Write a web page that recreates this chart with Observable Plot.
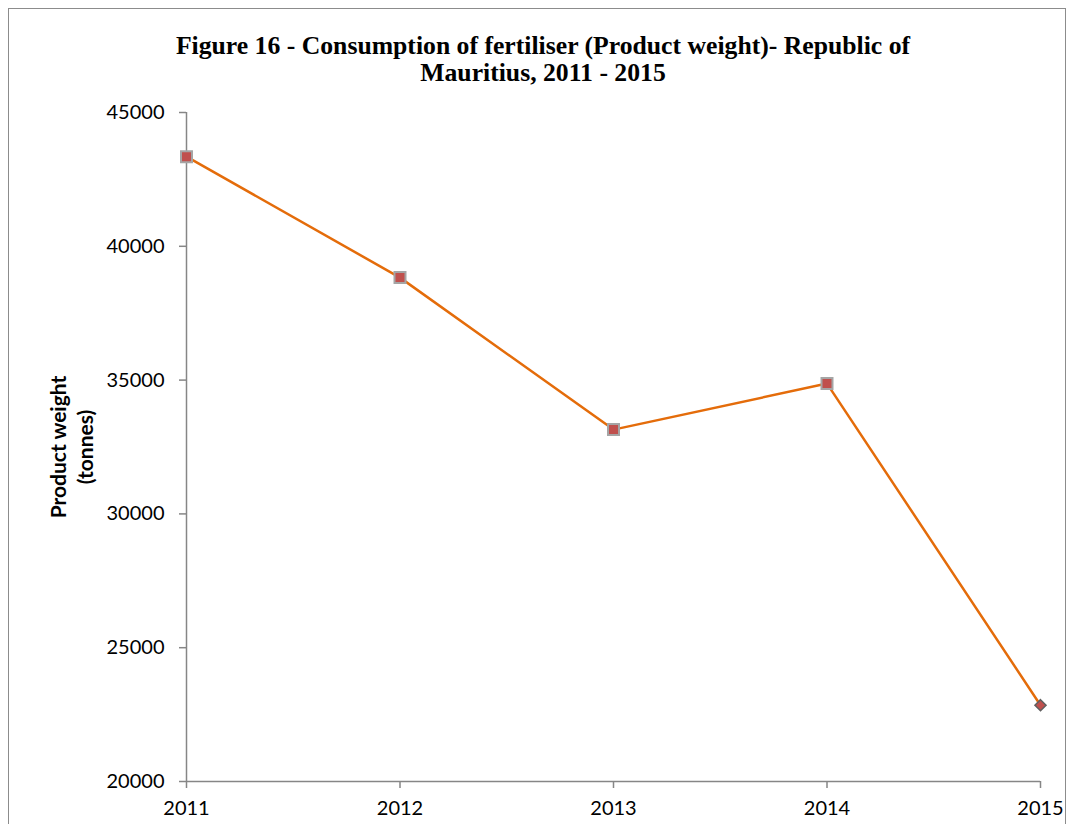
<!DOCTYPE html>
<html><head><meta charset="utf-8">
<script src="https://cdn.jsdelivr.net/npm/d3@7"></script>
<script src="https://cdn.jsdelivr.net/npm/@observablehq/plot@0.6"></script>
<style>
body{margin:0;background:#fff;}
#wrap{position:relative;width:1068px;height:824px;overflow:hidden;}
#border{position:absolute;left:8px;top:8px;width:1058px;height:900px;border:1px solid #8c8c8c;box-sizing:border-box;}
#title{position:absolute;left:0;top:32px;width:1086px;text-align:center;font-family:"Liberation Serif","Times New Roman",serif;font-weight:bold;font-size:25.7px;line-height:27px;color:#000;}
#ylab{position:absolute;left:71px;top:447px;transform:translate(-50%,-50%) rotate(-90deg);font-family:Lato,"Open Sans",sans-serif;font-weight:bold;font-size:21px;line-height:27px;text-align:center;white-space:nowrap;color:#000;}
#chart{position:absolute;left:0;top:0;}
</style></head>
<body><div id="wrap"><div id="border"></div><div id="chart"></div>
<div id="title">Figure 16 - Consumption of fertiliser (Product weight)- Republic of<br>Mauritius, 2011 - 2015</div>
<div id="ylab">Product weight<br>(tonnes)</div></div>
<script>
const years = [2011, 2012, 2013, 2014, 2015];
const weights = [43350, 38830, 33150, 34870, 22850];
const yTicks = [20000, 25000, 30000, 35000, 40000, 45000];
const data = years.map((y, i) => ({year: y, value: weights[i]}));
const squares = data.slice(0, 4);
const diamonds = data.slice(4);

const chart = Plot.plot({
  width: 1068, height: 824,
  marginLeft: 186, marginRight: 28, marginTop: 112, marginBottom: 43,
  style: {fontFamily: "Lato, 'Open Sans', sans-serif", fontSize: "20px", color: "#000", background: "transparent"},
  x: {domain: [2011, 2015], label: null},
  y: {domain: [20000, 45000], label: null},
  marks: [
    Plot.axisX({ticks: years, tickFormat: "d", tickSize: 7, tickPadding: 12, stroke: "#868686", strokeWidth: 1.5, fill: "#000", label: null}),
    Plot.axisY({ticks: yTicks, tickFormat: d => String(d), tickSize: 7, tickPadding: 15, stroke: "#868686", strokeWidth: 1.5, fill: "#000", label: null}),
    Plot.ruleX([2011], {stroke: "#868686", strokeWidth: 1.5}),
    Plot.ruleY([20000], {stroke: "#868686", strokeWidth: 1.5}),
    Plot.line(data, {x: "year", y: "value", stroke: "#E46C0A", strokeWidth: 2.5}),
    Plot.dot(squares, {x: "year", y: "value", symbol: "square", r: 6.2, fill: "#C0504D", stroke: "#A5A5A5", strokeWidth: 2}),
    Plot.dot(diamonds, {x: "year", y: "value", symbol: "diamond2", r: 5, fill: "#C0504D", stroke: "#5f5f5f", strokeWidth: 1.5})
  ]
});
document.getElementById("chart").appendChild(chart);
</script></body></html>
